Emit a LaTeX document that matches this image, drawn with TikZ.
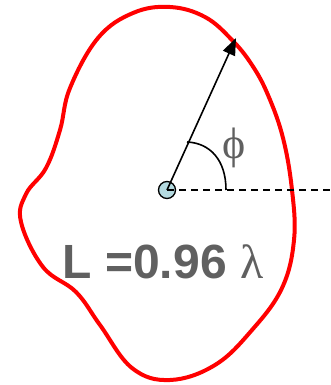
\documentclass[tikz,border=0pt]{standalone}
\usepackage{fontspec}
\setmainfont{Liberation Sans}
\newfontfamily\seriffont{Liberation Serif}
\usetikzlibrary{arrows.meta}
\definecolor{txtgray}{RGB}{96,96,96}
\definecolor{dotblue}{RGB}{180,218,224}
\begin{document}
\begin{tikzpicture}[x=1pt,y=-1pt,
  loop/.style={draw=red,line width=4pt,line join=round},
  ray/.style={draw=black,line width=1.6pt},
  refline/.style={draw=black,line width=1.4pt,dash pattern=on 7pt off 5pt}]
\useasboundingbox (0,0) rectangle (331,385);
\draw[loop] plot[smooth cycle,tension=0.65] coordinates {
  (170,7) (205,17) (232,40) (252,65) (268,95) (283,138) (292,190) (294,240)
  (282,288) (252,330) (215,365) (170,380) (132,368) (100,325) (76,292)
  (43,267) (21,222) (26,194) (46,168) (60,130) (70,88) (98,38) (133,13)};
\node[circle,draw=black,line width=1.3pt,fill=dotblue,minimum size=17pt,inner sep=0pt] (c) at (167,190) {};
\coordinate (tip) at (236,38);
\coordinate (far) at (331,190);
\draw[refline] (c.center) -- (far);
\draw[ray,-{Triangle[length=17pt,width=13pt]}] (c.center) -- (tip);
\coordinate (a1) at (226,190);
\coordinate (a2) at (187,142);
\draw[ray] (a1) .. controls (226,160) and (210,143) .. (a2);
\node[text=txtgray,font=\seriffont\fontsize{44}{48}\selectfont,inner sep=0pt] (phi) at (234,148) {\symbol{"03D5}};
\node[text=txtgray,inner sep=0pt] (len) at (163,262)
  {\fontsize{48}{52}\selectfont\bfseries L =0.96 {\seriffont\mdseries λ}};
\end{tikzpicture}
\end{document}
